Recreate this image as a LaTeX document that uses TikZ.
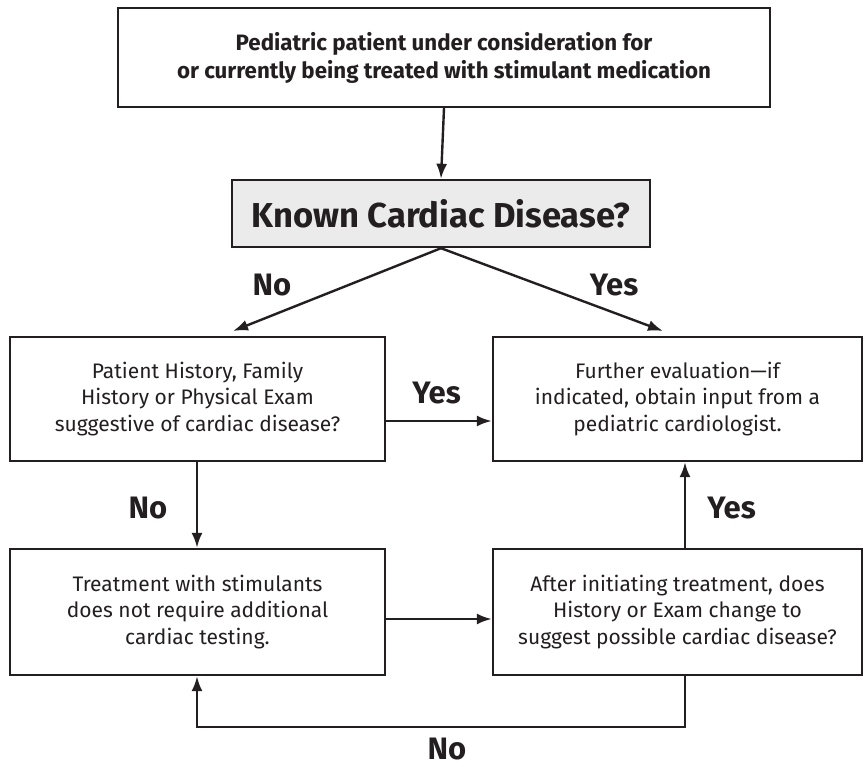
\documentclass[tikz,border=0pt]{standalone}
\usepackage{fontspec}
\setmainfont{Fira Sans}
\usetikzlibrary{arrows.meta}
\definecolor{ink}{HTML}{231F20}
\definecolor{boxgray}{HTML}{EBEBEB}
\tikzset{
  every node/.style={text=ink},
  box/.style={draw=ink, line width=2.4pt, inner sep=0pt, align=center},
  txt/.style={font=\fontsize{21}{26.5}\selectfont, align=center},
  lab/.style={font=\fontsize{31}{33}\selectfont\bfseries, anchor=base, inner sep=0pt},
  conn/.style={draw=ink, line width=2.4pt, -{Latex[length=15pt,width=11pt]}},
  plain/.style={draw=ink, line width=2.4pt}
}
\begin{document}
\begin{tikzpicture}[x=1pt,y=-1pt]
\useasboundingbox (0,0) rectangle (865,767);
% boxes
\node[box, minimum width=652pt, minimum height=99pt, font=\fontsize{22.3}{28}\selectfont\bfseries] (top) at (444,57.5)
  {Pediatric patient under consideration for\\or currently being treated with stimulant medication};
\node[box, fill=boxgray, minimum width=418pt, minimum height=67pt, font=\fontsize{34.6}{38}\selectfont\bfseries] (known) at (441,213.5)
  {Known Cardiac Disease?};
\node[box, txt, minimum width=375pt, minimum height=124pt] (hist) at (197.5,399)
  {Patient History, Family\\History or Physical Exam\\suggestive of cardiac disease?};
\node[box, txt, minimum width=369pt, minimum height=124pt] (further) at (677.5,399)
  {Further evaluation—if\\indicated, obtain input from a\\pediatric cardiologist.};
\node[box, txt, minimum width=375pt, minimum height=126pt] (treat) at (197.5,612)
  {Treatment with stimulants\\does not require additional\\cardiac testing.};
\node[box, txt, minimum width=369pt, minimum height=126pt] (after) at (677.5,612)
  {After initiating treatment, does\\History or Exam change to\\suggest possible cardiac disease?};
% coordinates
\coordinate (kb) at (known.south);
\coordinate (lt) at (233,331);
\coordinate (rt) at (663,331);
\coordinate (c1) at (685,727);
\coordinate (c2) at (197,727);
% connectors
\draw[conn] (top.south) -- (known.north);
\draw[conn] (kb) -- (lt);
\draw[conn] (kb) -- (rt);
\draw[conn] (hist.east |- 0,421) -- (further.west |- 0,421);
\draw[conn] (hist.south -| 197,0) -- (treat.north -| 197,0);
\draw[conn] (after.north -| 685,0) -- (further.south -| 685,0);
\draw[conn] (treat.east |- 0,619) -- (after.west |- 0,619);
\draw[conn] (after.south -| 685,0) -- (c1) -- (c2) -- (treat.south -| 197,0);
% labels
\node[lab] (l1) at (272,296) {No};
\node[lab] (l2) at (614,296) {Yes};
\node[lab] (l3) at (436.5,403) {Yes};
\node[lab] (l4) at (148,518) {No};
\node[lab] (l5) at (731.5,518) {Yes};
\node[lab] (l6) at (447,759) {No};
\end{tikzpicture}
\end{document}
